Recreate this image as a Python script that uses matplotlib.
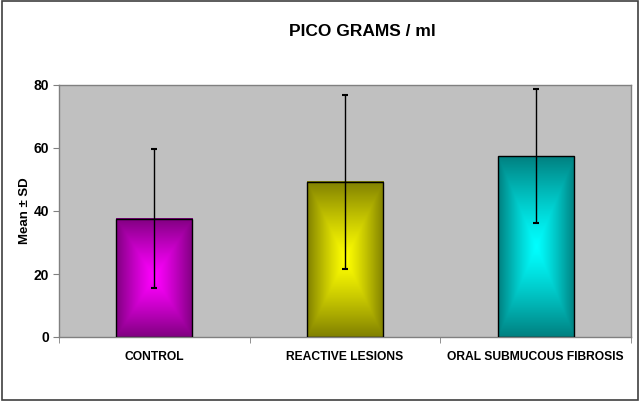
import numpy as np
import matplotlib
matplotlib.use("Agg")
import matplotlib.pyplot as plt
from matplotlib.patches import Rectangle

categories = ["CONTROL", "REACTIVE LESIONS", "ORAL SUBMUCOUS FIBROSIS"]
means = [37.5, 49.3, 57.4]
sds = [22.1, 27.6, 21.2]
centre_colors = ["#FF00FF", "#FFFF00", "#00FFFF"]
edge_colors = ["#800080", "#808000", "#008080"]

plt.rcParams["font.family"] = ["Liberation Sans", "DejaVu Sans"]
plt.rcParams["font.weight"] = "bold"

fig = plt.figure(figsize=(6.4, 4.01), dpi=100)
ax = fig.add_axes([59 / 640, 1 - 337 / 401, 572 / 640, 252 / 401])
ax.set_facecolor("#C0C0C0")

x = np.arange(len(categories))
width = 0.4


def hex_rgb(h):
    return np.array([int(h[i:i + 2], 16) / 255 for i in (1, 3, 5)])


# "from centre" gradient: bright middle, dark towards every edge
u = np.linspace(-1, 1, 120)
v = np.linspace(-1, 1, 240)
U, V = np.meshgrid(u, v)
t = np.maximum(np.abs(U), np.abs(V)) ** 1.2

for xi, m, cc, ec in zip(x, means, centre_colors, edge_colors):
    c0, c1 = hex_rgb(cc), hex_rgb(ec)
    img = c0[None, None, :] * (1 - t[..., None]) + c1[None, None, :] * t[..., None]
    ax.imshow(img, extent=[xi - width / 2, xi + width / 2, 0, m],
              aspect="auto", zorder=2, interpolation="bilinear")
    ax.add_patch(Rectangle((xi - width / 2, 0), width, m, fill=False,
                           edgecolor="black", lw=1.0, zorder=3))

ax.errorbar(x, means, yerr=sds, fmt="none", ecolor="black", elinewidth=1.0,
            capsize=2.5, capthick=1.5, zorder=4)

ax.set_xlim(-0.5, 2.5)
ax.set_ylim(0, 80)
ax.set_yticks([0, 20, 40, 60, 80])
ax.tick_params(axis="y", length=4, color="#808080", labelsize=10, pad=3)
ax.set_xticks(x)
ax.set_xticklabels(categories, fontsize=8.7, fontweight="bold")
ax.tick_params(axis="x", length=0, pad=10)
ax.set_xticks([-0.5, 0.5, 1.5, 2.5], minor=True)
ax.tick_params(axis="x", which="minor", length=4, color="#808080")
for s in ax.spines.values():
    s.set_color("#808080")
    s.set_linewidth(1.0)

ax.set_ylabel("Mean \u00b1 SD", fontsize=9.5, fontweight="bold", labelpad=2)
fig.text(362 / 640, 1 - 32 / 401, "PICO GRAMS / ml", ha="center", va="center",
         fontsize=12.5, fontweight="bold")

fig.patches.append(Rectangle((0.003, 0.003), 0.994, 0.994, transform=fig.transFigure,
                             fill=False, edgecolor="#404040", lw=1.2))

fig.savefig("out.png", dpi=100)
